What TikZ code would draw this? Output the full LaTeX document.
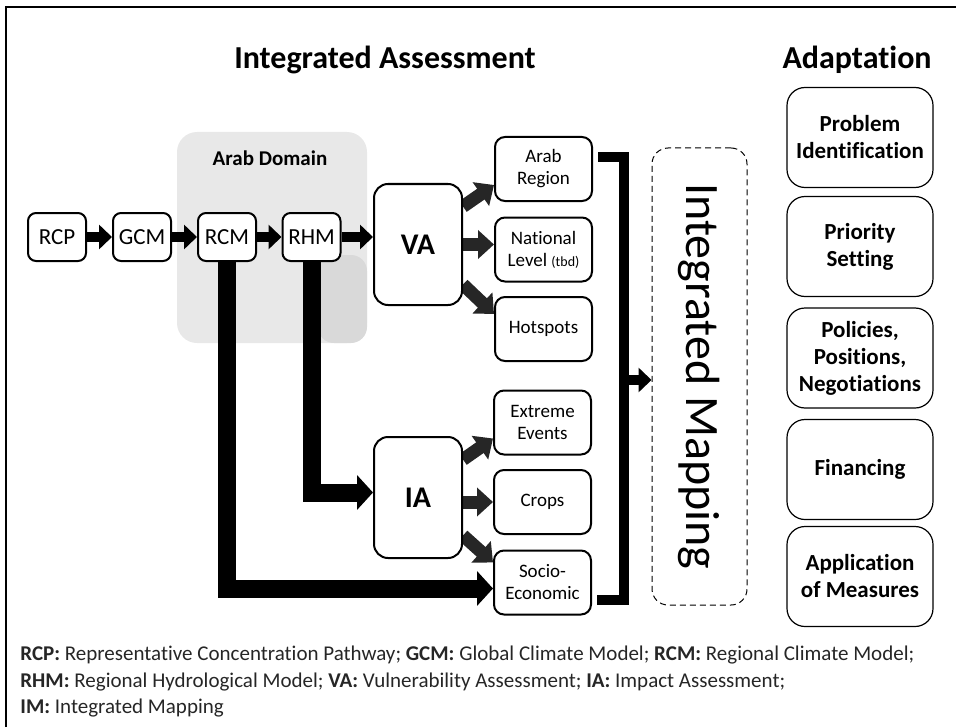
\documentclass[tikz,border=0pt]{standalone}
\usepackage{fontspec}
\setmainfont{Carlito}[RawFeature={-liga;-clig;-calt}]
\usetikzlibrary{calc,arrows.meta}

\pgfdeclarelayer{bottom}
\pgfdeclarelayer{background}
\pgfsetlayers{bottom,background,main}

\tikzset{
  model/.style={draw, fill=white, line width=1pt, rounded corners=4pt, minimum width=29pt, minimum height=24pt, inner sep=0pt, font=\fontsize{11.5}{13}\selectfont},
  assess/.style={draw, fill=white, line width=1pt, rounded corners=7pt, minimum width=44pt, minimum height=60.5pt, inner sep=0pt, font=\bfseries\fontsize{15}{18}\selectfont},
  outbox/.style={draw, fill=white, line width=1pt, rounded corners=5pt, minimum width=48.5pt, minimum height=32pt, inner sep=0pt, align=center, font=\fontsize{9.5}{11}\selectfont},
  imbox/.style={draw, densely dashed, fill=white, line width=0.5pt, rounded corners=8pt, minimum width=47.5pt, minimum height=228.5pt, inner sep=0pt, font=\fontsize{24}{28}\selectfont},
  adapt/.style={draw, fill=white, line width=0.6pt, rounded corners=9pt, minimum width=73pt, minimum height=50pt, inner sep=0pt, align=center, font=\bfseries\fontsize{11.5}{13.5}\selectfont},
  heading/.style={anchor=base, inner sep=0pt, font=\bfseries\fontsize{16}{19}\selectfont},
  legend/.style={anchor=base west, inner sep=0pt, text=black!85, font=\fontsize{10.5}{12}\selectfont},
  chain/.style={line width=5pt, -{Triangle[width=12pt,length=6.5pt]}},
  fan/.style={black!85, line width=6.5pt, -{Triangle[width=14pt,length=8pt]}},
  feed/.style={line width=9pt, line join=miter, -{Triangle[width=17pt,length=8pt]}},
  bracket/.style={line width=5pt, line join=miter},
}

\begin{document}
\begin{tikzpicture}[x=0.5pt, y=-0.5pt]
  \useasboundingbox (0,0) rectangle (956,727);

  % frame
  \draw[line width=1pt] (6,727) -- (6,7) -- (956,7);

  % Arab Domain
  \begin{pgfonlayer}{bottom}
    \fill[gray!18, rounded corners=10pt] (177,132) rectangle (367,343);
    \fill[gray!30, rounded corners=8pt] (318,255) rectangle (367,343);
  \end{pgfonlayer}
  \node[font=\bfseries\fontsize{10.5}{12}\selectfont] (dom) at (270,158) {Arab Domain};

  \node[heading] (tia) at (385,69) {Integrated Assessment};
  \node[heading] (tad) at (857,69) {Adaptation};

  \node[model] (rcp) at (57,237) {RCP};
  \node[model] (gcm) at (142,237) {GCM};
  \node[model] (rcm) at (227,237) {RCM};
  \node[model] (rhm) at (311.5,237) {RHM};

  \node[assess] (va) at (418,244.5) {VA};
  \node[assess] (ia) at (418,497.5) {IA};

  \node[outbox] (ar)  at (543.5,169)   {Arab\\Region};
  \node[outbox] (nat) at (543.5,249.5) {National\\Level {\fontsize{7}{8}\selectfont(tbd)}};
  \node[outbox] (hot) at (543.5,329)   {Hotspots};
  \node[outbox] (ext) at (542.5,422.5) {Extreme\\Events};
  \node[outbox] (crp) at (542.5,502)   {Crops};
  \node[outbox] (soc) at (542.5,582.5) {Socio-\\Economic};

  \node[imbox] (im) at (699.5,376.5) {\rotatebox{-90}{Integrated Mapping}};

  \node[adapt] (pid) at (860,137.5) {Problem\\Identification};
  \node[adapt] (prs) at (860,246.5) {Priority\\Setting};
  \node[adapt] (pol) at (860,358)   {Policies,\\Positions,\\Negotiations};
  \node[adapt] (fin) at (860,469.5) {Financing};
  \node[adapt] (app) at (860,576.5) {Application\\of Measures};

  \coordinate (brt) at (624,157);
  \coordinate (brb) at (624,600);
  \coordinate (brm) at (624,380);

  \begin{pgfonlayer}{background}
    \draw[chain] (rcp) -- (gcm);
    \draw[chain] (gcm) -- (rcm);
    \draw[chain] (rcm) -- (rhm);
    \draw[chain] (rhm.east) -- (rhm.east -| va.west);

    \draw[feed] (rcm.south) |- ($(soc.west)+(0,6)$);
    \draw[feed] (rhm.south) |- ($(ia.west)+(0,-5)$);

    \draw[fan] ($(va.east)+(0,-38)$) -- ($(ar.west)+(0,16)$);
    \draw[fan] (va.east) -- (va.east -| nat.west);
    \draw[fan] ($(va.east)+(0,40)$) -- ($(hot.west)+(0,-15)$);
    \draw[fan] ($(ia.east)+(0,-38)$) -- ($(ext.west)+(0,16)$);
    \draw[fan] (crp.west -| ia.east) -- (crp.west);
    \draw[fan] ($(ia.east)+(0,38)$) -- ($(soc.west)+(0,-20)$);

    \draw[bracket] ($(ar.east |- brt)+(5,0)$) -- (brt) -- (brb) -- ($(soc.east |- brb)+(5,0)$);
    \draw[chain] (brm) -- (brm -| im.west);
  \end{pgfonlayer}

  % legend
  \node[legend] (lg1) at (20,660) {\textbf{RCP:} Representative Concentration Pathway; \textbf{GCM:} Global Climate Model; \textbf{RCM:} Regional Climate Model;};
  \node[legend] (lg2) at (20,687) {\textbf{RHM:} Regional Hydrological Model; \textbf{VA:} Vulnerability Assessment; \textbf{IA:} Impact Assessment;};
  \node[legend] (lg3) at (20,713) {\textbf{IM:} Integrated Mapping};
\end{tikzpicture}
\end{document}
